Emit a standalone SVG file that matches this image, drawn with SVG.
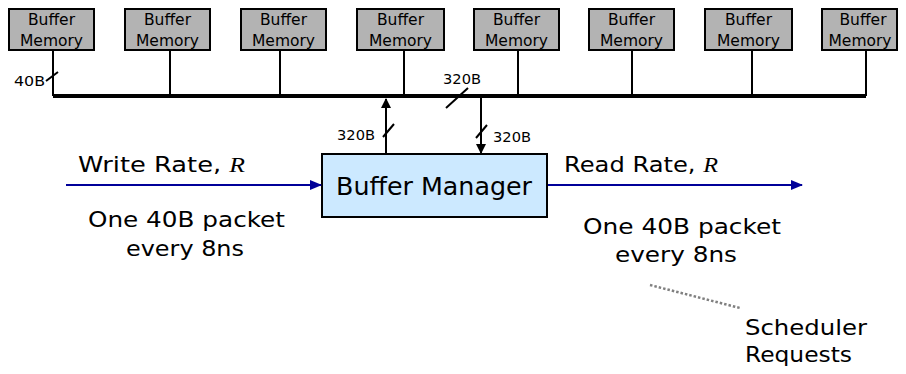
<svg xmlns="http://www.w3.org/2000/svg" width="906" height="374" viewBox="0 0 906 374">
<style>
.mem rect{fill:#b3b3b3;stroke:#000;stroke-width:2}
.mem text{font-family:"DejaVu Sans",sans-serif;font-size:15.5px;text-anchor:middle;fill:#000}
.w{stroke:#000;stroke-width:2;fill:none}
.lbl{font-family:"DejaVu Sans",sans-serif;font-size:14px;fill:#000}
.big{font-family:"DejaVu Sans",sans-serif;font-size:22px;fill:#000}
.mid{text-anchor:middle}
.it{font-family:"Liberation Serif",serif;font-style:italic}
</style>
<defs>
<marker id="ab" markerWidth="10" markerHeight="10" refX="9" refY="5" orient="auto" markerUnits="userSpaceOnUse"><path d="M0,0 L10,5 L0,10 z" fill="#000"/></marker>
<marker id="an" markerWidth="12" markerHeight="10" refX="11" refY="5" orient="auto" markerUnits="userSpaceOnUse"><path d="M0,0 L12,5 L0,10 z" fill="#000099"/></marker>
</defs>
<g id="mem1" class="mem"><rect x="9" y="9" width="85" height="41"/><text x="51.5" y="25">Buffer</text><text x="51.5" y="46">Memory</text></g>
<g id="mem2" class="mem"><rect x="125" y="9" width="85" height="41"/><text x="167.5" y="25">Buffer</text><text x="167.5" y="46">Memory</text></g>
<g id="mem3" class="mem"><rect x="241" y="9" width="85" height="41"/><text x="283.5" y="25">Buffer</text><text x="283.5" y="46">Memory</text></g>
<g id="mem4" class="mem"><rect x="357" y="9" width="87" height="41"/><text x="400.5" y="25">Buffer</text><text x="400.5" y="46">Memory</text></g>
<g id="mem5" class="mem"><rect x="474" y="9" width="85" height="41"/><text x="516.5" y="25">Buffer</text><text x="516.5" y="46">Memory</text></g>
<g id="mem6" class="mem"><rect x="589" y="9" width="85" height="41"/><text x="631.5" y="25">Buffer</text><text x="631.5" y="46">Memory</text></g>
<g id="mem7" class="mem"><rect x="705" y="9" width="87" height="41"/><text x="748.5" y="25">Buffer</text><text x="748.5" y="46">Memory</text></g>
<g id="mem8" class="mem"><rect x="822" y="9" width="75" height="41"/><text x="863" y="25">Buffer</text><text x="860" y="46">Memory</text></g>
<g id="manager"><rect x="322" y="154" width="225" height="63" fill="#cce9ff" stroke="#000" stroke-width="2"/><text class="big" x="336" y="195" style="font-size:24px" textLength="196" lengthAdjust="spacingAndGlyphs">Buffer Manager</text></g>
<g id="connectors">
<line x1="53" y1="96" x2="866" y2="96" stroke="#000" stroke-width="4"/>
<path class="w" d="M53,50V96M170,50V96M280,50V96M404,50V96M518,50V96M632,50V96M752,50V96M866,50V96"/>
<path class="w" d="M46,81L58,72"/>
<path class="w" d="M386,154V99" marker-end="url(#ab)"/>
<path class="w" d="M481,98V153" marker-end="url(#ab)"/>
<path class="w" d="M383,137L394,124M476,138L487,125M446,108L468,88"/>
<path d="M66,185H321" stroke="#000099" stroke-width="2" fill="none" marker-end="url(#an)"/>
<path d="M548,185H802" stroke="#000099" stroke-width="2" fill="none" marker-end="url(#an)"/>
<path d="M650,285L740,308" stroke="#808080" stroke-width="2.5" stroke-dasharray="2.5,2" fill="none"/>
</g>
<text class="lbl" x="14" y="86" textLength="31" lengthAdjust="spacingAndGlyphs">40B</text>
<text class="lbl" x="443" y="84" textLength="38" lengthAdjust="spacingAndGlyphs">320B</text>
<text class="lbl" x="337" y="140" textLength="38" lengthAdjust="spacingAndGlyphs">320B</text>
<text class="lbl" x="493" y="142" textLength="38" lengthAdjust="spacingAndGlyphs">320B</text>
<text class="big" x="78" y="172" textLength="167" lengthAdjust="spacingAndGlyphs">Write Rate, <tspan class="it">R</tspan></text>
<text class="big" x="88" y="227" textLength="197" lengthAdjust="spacingAndGlyphs">One 40B packet</text>
<text class="big" x="126" y="256" textLength="118" lengthAdjust="spacingAndGlyphs">every 8ns</text>
<text class="big" x="564" y="172" textLength="154" lengthAdjust="spacingAndGlyphs">Read Rate, <tspan class="it">R</tspan></text>
<text class="big" x="583" y="234" textLength="198" lengthAdjust="spacingAndGlyphs">One 40B packet</text>
<text class="big" x="615" y="262" textLength="122" lengthAdjust="spacingAndGlyphs">every 8ns</text>
<text class="big" x="745" y="335" textLength="122" lengthAdjust="spacingAndGlyphs">Scheduler</text>
<text class="big" x="745" y="362" textLength="107" lengthAdjust="spacingAndGlyphs">Requests</text>
</svg>
